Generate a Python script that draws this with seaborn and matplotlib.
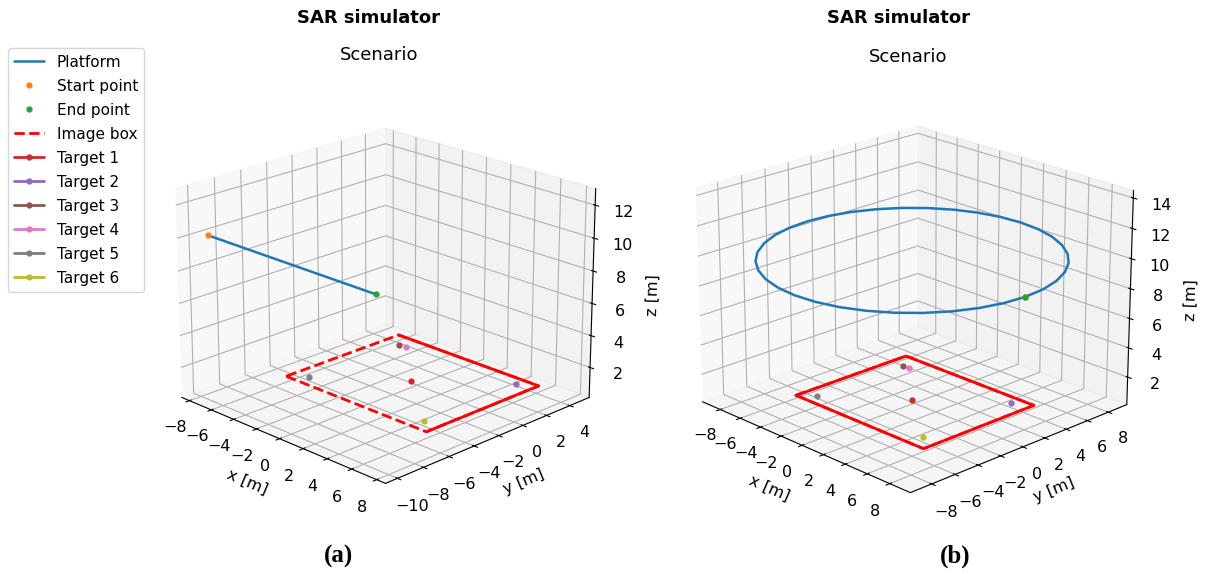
import matplotlib
matplotlib.use("Agg")
import matplotlib.pyplot as plt
import seaborn as sns

sns.set_style("white", {"text.color": "black", "axes.labelcolor": "black",
                        "xtick.color": "black", "ytick.color": "black",
                        "grid.color": "#b0b0b0", "axes.edgecolor": "black"})
plt.rcParams['font.family'] = ['DejaVu Sans']
colors = sns.color_palette("tab10")

target_names = ["Target 1", "Target 2", "Target 3", "Target 4", "Target 5", "Target 6"]
target_colors = ["#d62728", "#9467bd", "#8c564b", "#e377c2", "#7f7f7f", "#bcbd22"]

# left panel: image box, targets, straight flight
box_x_a = [-6.34, 5.66, 5.66, -6.34, -6.34]
box_y_a = [-4.79, -4.79, 4.58, 4.58, -4.79]
box_z_a = [0.3, 0.3, 0.3, 0.3, 0.3]
target_x_a = [-0.39, 4.49, -5.14, -4.57, -5.24, 4.45]
target_y_a = [-0.13, 3.89, 3.48, 3.53, -3.9, -3.79]
target_z_a = [0.3, 0.3, 0.3, 0.3, 0.3, 0.3]
line_x = [-7.79, 6.29]
line_y = [-9.33, -9.33]
line_z = [10, 10]

# right panel: image box, targets, circular flight sampled every 10 degrees
box_x_b = [-6, 6, 6, -6, -6]
box_y_b = [-5, -5, 5, 5, -5]
box_z_b = [0.3, 0.3, 0.3, 0.3, 0.3]
target_x_b = [-0.1, 4.77, -4.89, -4.3, -4.98, 4.7]
target_y_b = [-0.1, 4.18, 3.61, 3.61, -4.04, -3.8]
target_z_b = [0.3, 0.3, 0.3, 0.3, 0.3, 0.3]
circle_x = [9.9, 9.75, 9.3, 8.56, 7.56, 6.33, 4.9, 3.32, 1.64, -0.1,
            -1.84, -3.52, -5.1, -6.53, -7.76, -8.76, -9.5, -9.95, -10.1,
            -9.95, -9.5, -8.76, -7.76, -6.53, -5.1, -3.52, -1.84, -0.1,
            1.64, 3.32, 4.9, 6.33, 7.56, 8.56, 9.3, 9.75, 9.9]
circle_y = [-0.1, 1.64, 3.32, 4.9, 6.33, 7.56, 8.56, 9.3, 9.75, 9.9,
            9.75, 9.3, 8.56, 7.56, 6.33, 4.9, 3.32, 1.64, -0.1,
            -1.84, -3.52, -5.1, -6.53, -7.76, -8.76, -9.5, -9.95, -10.1,
            -9.95, -9.5, -8.76, -7.76, -6.53, -5.1, -3.52, -1.84, -0.1]
circle_z = [10] * 37


def draw_panel(ax, px, py, pz, box, targets, xlim, ylim, zlim, zticks, azim, aspect_z, title_y, dashed):
    box_x, box_y, box_z = box
    target_x, target_y, target_z = targets
    ax.plot(px, py, pz, color=colors[0], lw=1.8, label="Platform")
    ax.plot(px[:1], py[:1], pz[:1], ".", color=colors[1], ms=7, label="Start point")
    ax.plot(px[-1:], py[-1:], pz[-1:], ".", color=colors[2], ms=7, label="End point")
    ax.plot(box_x, box_y, box_z, "--", color="red", lw=2, label="Image box")
    # the box edges that read as solid in the reference
    if dashed:
        ax.plot(box_x[1:4], box_y[1:4], box_z[1:4], "-", color="red", lw=2)
    else:
        ax.plot(box_x, box_y, box_z, "-", color="red", lw=2)
    for i, name in enumerate(target_names):
        ax.plot(target_x[i:i+1], target_y[i:i+1], target_z[i:i+1], ".-",
                color=target_colors[i], ms=7, lw=2, label=name)
    ax.set_xlim(*xlim)
    ax.set_ylim(*ylim)
    ax.set_zlim(*zlim)
    ax.set_xticks([-8, -6, -4, -2, 0, 2, 4, 6, 8])
    ax.set_zticks(zticks)
    ax.tick_params(labelsize=11.5)
    ax.set_xlabel("x [m]", fontsize=11.5)
    ax.set_ylabel("y [m]", fontsize=11.5)
    ax.set_zlabel("z [m]", fontsize=11.5)
    ax.set_title("Scenario", fontsize=13, y=title_y)
    ax.set_box_aspect((4, 4, aspect_z))
    ax.view_init(elev=20.5, azim=azim)


fig = plt.figure(figsize=(12.09, 5.74), dpi=100)
ax1 = fig.add_axes([0.125, 0.0785, 0.3775, 0.795], projection="3d")
ax2 = fig.add_axes([0.555, 0.0575, 0.392, 0.825], projection="3d")
draw_panel(ax1, line_x, line_y, line_z, (box_x_a, box_y_a, box_z_a),
           (target_x_a, target_y_a, target_z_a), (-8.7, 8.7), (-10.9, 5.7), (0.1, 13),
           [2, 4, 6, 8, 10, 12], -45, 3.05, 1.097, True)
draw_panel(ax2, circle_x, circle_y, circle_z, (box_x_b, box_y_b, box_z_b),
           (target_x_b, target_y_b, target_z_b), (-9.8, 9.8), (-9.8, 9.8), (0.1, 14.5),
           [2, 4, 6, 8, 10, 12, 14], -44, 3.0, 1.08, False)
ax2.set_yticks([-8, -6, -4, -2, 0, 2, 4, 6, 8])

handles, labels = ax1.get_legend_handles_labels()
fig.legend(handles, labels, loc="upper left", bbox_to_anchor=(0.0, 0.929), fontsize=11,
           labelspacing=0.59)
fig.text(0.305, 0.968, "SAR simulator", ha="center", va="center", fontweight="bold", fontsize=13)
fig.text(0.743, 0.968, "SAR simulator", ha="center", va="center", fontweight="bold", fontsize=13)
fig.text(0.28, 0.03, "(a)", ha="center", va="center", fontweight="bold", fontsize=18, family="Liberation Serif")
fig.text(0.79, 0.03, "(b)", ha="center", va="center", fontweight="bold", fontsize=18, family="Liberation Serif")
fig.savefig("out.png", dpi=100)
